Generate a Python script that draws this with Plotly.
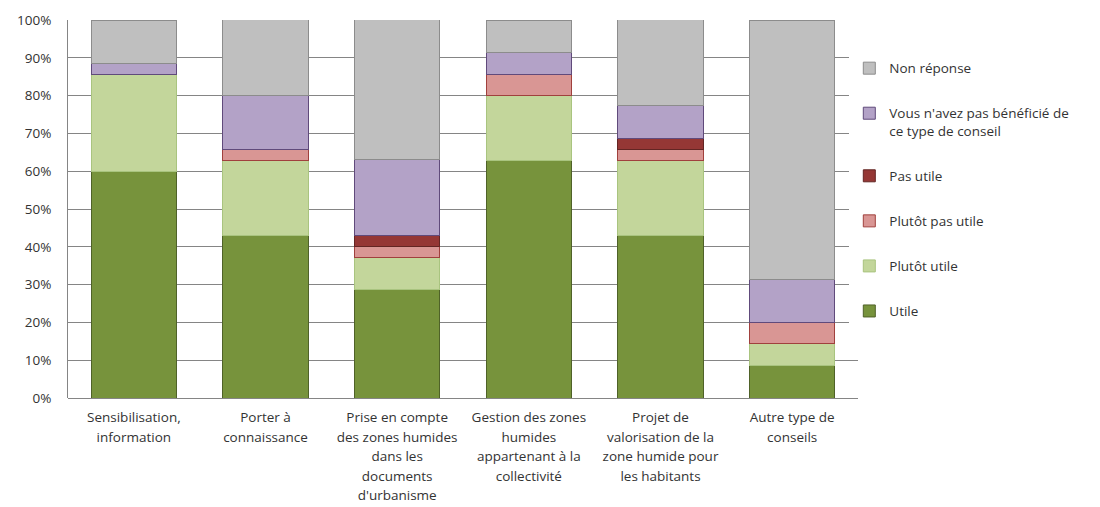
import plotly.graph_objects as go

categories = [
    "Sensibilisation,<br>information",
    "Porter à<br>connaissance",
    "Prise en compte<br>des zones humides<br>dans les<br>documents<br>d'urbanisme",
    "Gestion des zones<br>humides<br>appartenant à la<br>collectivité",
    "Projet de<br>valorisation de la<br>zone humide pour<br>les habitants",
    "Autre type de<br>conseils",
]

utile = [60.0, 42.9, 28.6, 62.9, 42.9, 8.6]
plutot_utile = [25.7, 20.0, 8.6, 17.1, 20.0, 5.7]
plutot_pas_utile = [0.0, 2.9, 2.9, 5.7, 2.9, 5.7]
pas_utile = [0.0, 0.0, 2.9, 0.0, 2.9, 0.0]
pas_beneficie = [2.9, 14.3, 20.0, 5.7, 8.6, 11.4]
non_reponse = [11.4, 20.0, 37.1, 8.6, 22.9, 68.6]

y_ticks = [0, 10, 20, 30, 40, 50, 60, 70, 80, 90, 100]
y_tick_labels = ["0%", "10%", "20%", "30%", "40%", "50%", "60%", "70%", "80%", "90%", "100%"]

series = [
    ("Utile", utile, "#77933C", "#4F6228"),
    ("Plutôt utile", plutot_utile, "#C3D69B", "#A9C47F"),
    ("Plutôt pas utile", plutot_pas_utile, "#D99694", "#A0403D"),
    ("Pas utile", pas_utile, "#953735", "#632523"),
    ("Vous n'avez pas bénéficié de<br>ce type de conseil", pas_beneficie, "#B3A2C7", "#604A7B"),
    ("Non réponse", non_reponse, "#BFBFBF", "#8C8C8C"),
]

FONT = "Open Sans"
TXT = "#333333"

tick_text = ['<span style="font-size:13.5px">' + c.replace("<br>", '</span><br><span style="font-size:13.5px">') + "</span>" for c in categories]

fig = go.Figure()
x_idx = list(range(len(categories)))
n = len(series)
for i, (name, vals, fill, line) in enumerate(series):
    fig.add_trace(go.Bar(
        x=x_idx, y=vals, name=name,
        marker=dict(color=fill, line=dict(color=line, width=1)),
        width=0.65, legendgroup=str(i), legendrank=n - i,
        hoverinfo="skip",
    ))

fig.update_layout(
    barmode="stack",
    width=1100, height=507,
    margin=dict(l=60, r=250, t=12, b=117),
    paper_bgcolor="white", plot_bgcolor="white",
    font=dict(family=FONT, size=13.5, color=TXT),
    legend=dict(
        x=0.989, y=0.913, xanchor="left", yanchor="top",
        traceorder="grouped", tracegroupgap=24.5,
        valign="top", font=dict(family=FONT, size=13.5, color=TXT),
        itemwidth=30,
    ),
    shapes=[dict(type="line", xref="paper", yref="paper",
                 x0=-0.077, x1=-0.077, y0=-0.31, y1=1.06,
                 line=dict(color="#B0B0B0", width=1))],
)

fig.update_xaxes(
    tickmode="array", tickvals=x_idx, ticktext=tick_text,
    range=[-0.5, 5.5], showgrid=False, showline=False, ticks="",
    tickfont=dict(family=FONT, size=15, color=TXT), tickangle=0,
    ticklabelstandoff=8, automargin=False,
)
fig.update_yaxes(
    range=[0, 100], tickmode="array", tickvals=y_ticks, ticktext=y_tick_labels,
    showgrid=True, gridcolor="#858585", gridwidth=1,
    showline=True, linecolor="#858585", linewidth=1,
    zeroline=True, zerolinecolor="#858585", zerolinewidth=1,
    ticks="", ticklabelstandoff=13, automargin=False,
    tickfont=dict(family=FONT, size=13.5, color=TXT),
)

fig.write_html("out.html")
